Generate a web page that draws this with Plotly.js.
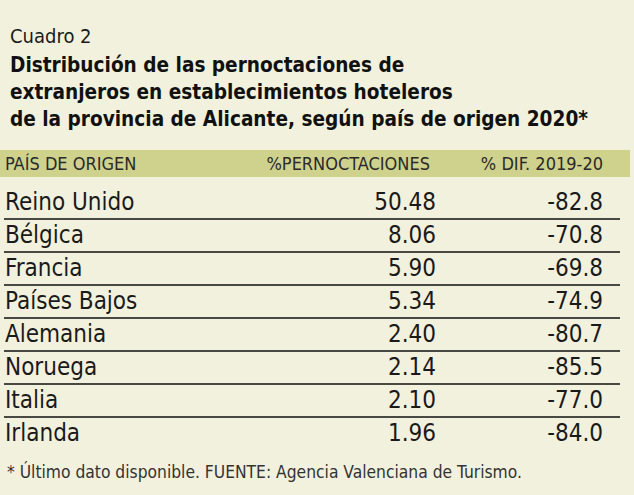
<!DOCTYPE html>
<html>
<head>
<meta charset="utf-8">
<script src="https://cdn.plot.ly/plotly-3.0.1.min.js"></script>
<style>html,body{margin:0;padding:0;background:#f2f1dd;}</style>
</head>
<body>
<div id="chart" style="width:634px;height:495px;"></div>
<script>
const kicker = 'Cuadro 2';
const titleLines = [
  'Distribución de las pernoctaciones de',
  'extranjeros en establecimientos hoteleros',
  'de la provincia de Alicante, según país de origen 2020*'
];
const headers = ['PAÍS DE ORIGEN', '%PERNOCTACIONES', '% DIF. 2019-20'];
const countries = ['Reino Unido', 'Bélgica', 'Francia', 'Países Bajos', 'Alemania', 'Noruega', 'Italia', 'Irlanda'];
const pernoctaciones = [50.48, 8.06, 5.90, 5.34, 2.40, 2.14, 2.10, 1.96];
const difs = [-82.8, -70.8, -69.8, -74.9, -80.7, -85.5, -77.0, -84.0];
const footnote = '* Último dato disponible. FUENTE: Agencia Valenciana de Turismo.';

const W = 634, H = 495;
const FONT = '"Liberation Sans Narrow", "DejaVu Sans Condensed", "Noto Sans", sans-serif';
const BG = '#f2f1dd';
const BAND = '#cfd28c';
const INK = '#1a1a1a';

// Row geometry: row index -> pixel via y axis
const row0 = 204, rowH = 33;
const yTop = -row0 / rowH, yBot = (H - row0) / rowH;
const px2y = p => (p - row0) / rowH;

const colX = [5, 436, 603];
const idx = countries.map((_, i) => i);

const traces = [
  {x: idx.map(() => colX[0]), y: idx, text: countries, mode: 'text', type: 'scatter',
   textposition: 'middle right', textfont: {family: FONT, size: 24, color: INK}, hoverinfo: 'skip', cliponaxis: false},
  {x: idx.map(() => colX[1]), y: idx, text: pernoctaciones.map(v => v.toFixed(2)), mode: 'text', type: 'scatter',
   textposition: 'middle left', textfont: {family: FONT, size: 24, color: INK}, hoverinfo: 'skip', cliponaxis: false},
  {x: idx.map(() => colX[2]), y: idx, text: difs.map(v => v.toFixed(1)), mode: 'text', type: 'scatter',
   textposition: 'middle left', textfont: {family: FONT, size: 24, color: INK}, hoverinfo: 'skip', cliponaxis: false}
];

const headerY = px2y(165);
traces.push({
  x: [colX[0], 430, colX[2]], y: [headerY, headerY, headerY], text: headers, mode: 'text', type: 'scatter',
  textposition: ['middle right', 'middle left', 'middle left'],
  textfont: {family: FONT, size: 18, color: '#2a2a2a'}, hoverinfo: 'skip', cliponaxis: false
});

const shapes = [
  {type: 'rect', xref: 'x', yref: 'y', x0: 0, x1: 630, y0: px2y(150), y1: px2y(177),
   fillcolor: BAND, line: {width: 0}, layer: 'below'}
];
for (let i = 0; i < countries.length - 1; i++) {
  shapes.push({type: 'line', xref: 'x', yref: 'y', x0: 4, x1: 620, y0: i + 0.455, y1: i + 0.455,
    line: {color: '#111', width: 1.5}});
}

const annotations = [
  {text: kicker, xref: 'x', yref: 'y', x: 8, y: px2y(36), xanchor: 'left', yanchor: 'middle',
   showarrow: false, font: {family: FONT, size: 20, color: INK}}
];
const tY = [65, 92, 119];
titleLines.forEach((t, i) => annotations.push({
  text: '<b>' + t + '</b>', xref: 'x', yref: 'y', x: 8, y: px2y(tY[i]), xanchor: 'left', yanchor: 'middle',
  showarrow: false, font: {family: FONT, size: 20.6, color: '#111'}
}));
annotations.push({text: footnote, xref: 'x', yref: 'y', x: 5, y: px2y(471), xanchor: 'left', yanchor: 'middle',
  showarrow: false, font: {family: FONT, size: 17.3, color: '#333'}});

const layout = {
  width: W, height: H,
  margin: {l: 0, r: 0, t: 0, b: 0, pad: 0},
  paper_bgcolor: BG, plot_bgcolor: BG,
  showlegend: false,
  xaxis: {range: [0, W], visible: false, fixedrange: true},
  yaxis: {range: [yBot, yTop], visible: false, fixedrange: true},
  shapes: shapes,
  annotations: annotations
};

Plotly.newPlot('chart', traces, layout, {staticPlot: true, displayModeBar: false});
</script>
</body>
</html>
